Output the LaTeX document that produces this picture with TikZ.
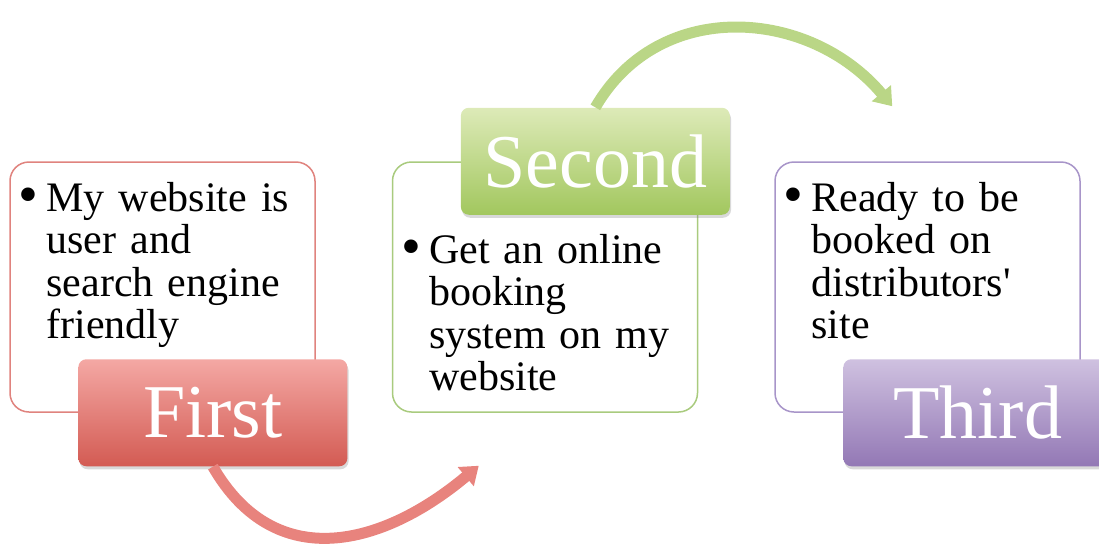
\documentclass[tikz,border=0pt]{standalone}
\usepackage{fontspec}
\setmainfont{Liberation Serif}
\usetikzlibrary{arrows.meta,positioning,shadows}

\definecolor{redline}{HTML}{E0837E}
\definecolor{redtop}{HTML}{F4A8A4}
\definecolor{redbot}{HTML}{D35B53}
\definecolor{redarrow}{HTML}{E8837D}
\definecolor{greenline}{HTML}{A9CB7E}
\definecolor{greentop}{HTML}{DDEAB8}
\definecolor{greenbot}{HTML}{A2C75E}
\definecolor{greenarrow}{HTML}{BAD686}
\definecolor{purpleline}{HTML}{A895C9}
\definecolor{purpletop}{HTML}{CFC1E0}
\definecolor{purplebot}{HTML}{9378B5}

\newcommand{\dotmark}{\llap{\raisebox{-1.2pt}{\scalebox{1.35}{\textbullet}}\hspace{4pt}}}

\begin{document}
\begin{tikzpicture}[
  card/.style={draw=#1, line width=0.75pt, fill=white, rounded corners=9.5pt,
    minimum width=152.5pt, minimum height=125pt, inner sep=0pt},
  tag/.style={rounded corners=4pt, minimum width=134.5pt, minimum height=53.5pt,
    inner sep=0pt, text=white, font={\fontsize{38}{40}\selectfont},
    drop shadow={opacity=0.3, shadow xshift=0.6pt, shadow yshift=-1.5pt}},
  words/.style={anchor=base west, inner sep=0pt, align=left, text width=128pt,
    font={\fontsize{21}{21.25}\selectfont\fontdimen2\font=3.9pt}},
  swing/.style={line width=5.5pt, draw=#1, -{Triangle[width=12pt,length=8.5pt]}}
]
\useasboundingbox (0,0) rectangle (549.5pt,271.5pt);

\node[card=redline] (box1) at (81.25pt,128pt) {};
\node[card=greenline, right=38pt of box1] (box2) {};
\node[card=purpleline, right=38pt of box2] (box3) {};

\node[words] (text1) at ([xshift=18.5pt,yshift=-25pt]box1.north west)
  {\noindent\dotmark My website is\\ user and\\ search engine\\ friendly};
\node[words] (text2) at ([xshift=18.5pt,yshift=-51pt]box2.north west)
  {\noindent\dotmark Get an online\\ booking\\ system on my\\ website};
\node[words] (text3) at ([xshift=18.5pt,yshift=-25pt]box3.north west)
  {\noindent\dotmark Ready to be\\ booked on\\ distributors\textquotesingle\\ site};

\node[tag, top color=redtop, bottom color=redbot, anchor=east]
  (first) at ([xshift=16pt]box1.south east) {First};
\node[tag, top color=greentop, bottom color=greenbot, anchor=east]
  (second) at ([xshift=16pt]box2.north east) {Second};
\node[tag, top color=purpletop, bottom color=purplebot, anchor=east]
  (third) at ([xshift=16pt]box3.south east) {Third};

\coordinate (tip1) at ([xshift=43.5pt,yshift=-26.5pt]box2.south west);
\coordinate (tip2) at ([xshift=59pt,yshift=27.5pt]box3.north west);

\draw[swing=redarrow] (first.south) to[out=-60, in=-140, looseness=1.2] (tip1);
\draw[swing=greenarrow] (second.north) to[out=60, in=130, looseness=1.1] (tip2);
\end{tikzpicture}
\end{document}
